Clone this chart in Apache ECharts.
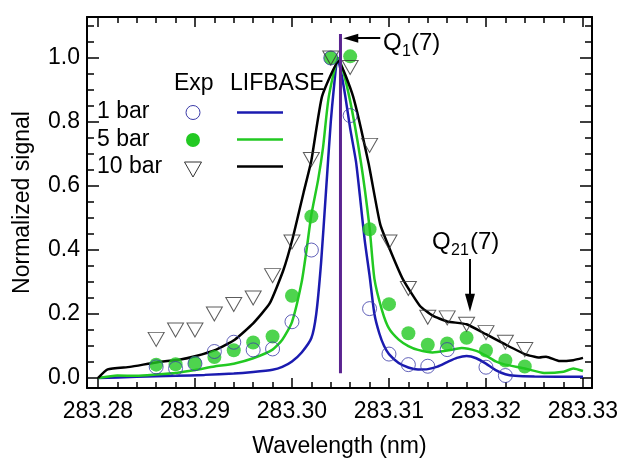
<!DOCTYPE html>
<html>
<head>
<meta charset="utf-8">
<script src="https://cdn.jsdelivr.net/npm/echarts@6/dist/echarts.min.js"></script>
<style>
  html, body { margin: 0; padding: 0; background: #fff; }
  #chart { width: 624px; height: 463px; }
</style>
</head>
<body>
<div id="chart"></div>
<script>
// experiment points (nm)
const expWl = [283.286, 283.288, 283.290, 283.292, 283.294, 283.296, 283.298, 283.300, 283.302, 283.304,
  283.306, 283.308, 283.310, 283.312, 283.314, 283.316, 283.318, 283.320, 283.322, 283.324]
const exp1bar = [0.035, 0.030, 0.045, 0.083, 0.112, 0.088, 0.091, 0.176, 0.400, 1.000,
  0.820, 0.217, 0.075, 0.042, 0.037, 0.089, null, 0.034, 0.008, null]
const exp5bar = [0.042, 0.043, 0.047, 0.066, 0.087, 0.111, 0.130, 0.257, 0.505, 1.000,
  1.005, 0.465, 0.231, 0.140, 0.104, 0.108, 0.126, 0.086, 0.055, 0.036]
const exp10bar = [0.121, 0.150, 0.150, 0.200, 0.230, 0.250, 0.320, 0.425, 0.683, 1.000,
  0.970, 0.727, 0.425, 0.280, 0.190, 0.188, 0.168, 0.142, 0.112, 0.089]

// LIFBASE simulations
const sim1Wl = [283.280, 283.284, 283.288, 283.291, 283.294, 283.296, 283.298, 283.299, 283.300, 283.301,
  283.302, 283.3025, 283.303, 283.3035, 283.304, 283.3043, 283.3047, 283.3051, 283.3055, 283.306,
  283.3066, 283.307, 283.3075, 283.308, 283.3085, 283.309, 283.3095, 283.310, 283.311, 283.312,
  283.313, 283.314, 283.315, 283.316, 283.317, 283.318, 283.319, 283.320, 283.321, 283.322,
  283.323, 283.325, 283.330]
const sim1 = [0.000, 0.004, 0.007, 0.010, 0.014, 0.019, 0.026, 0.035, 0.052, 0.080,
  0.125, 0.200, 0.360, 0.580, 0.800, 0.900, 1.000, 0.950, 0.880, 0.780,
  0.676, 0.570, 0.430, 0.320, 0.200, 0.140, 0.100, 0.075, 0.047, 0.033,
  0.027, 0.028, 0.036, 0.050, 0.063, 0.069, 0.062, 0.045, 0.025, 0.012,
  0.007, 0.005, 0.004]

const sim5Wl = [283.280, 283.282, 283.284, 283.286, 283.288, 283.290, 283.292, 283.294, 283.296, 283.298,
  283.299, 283.300, 283.301, 283.3015, 283.302, 283.3027, 283.3032, 283.3038, 283.3048, 283.3059,
  283.3071, 283.308, 283.3085, 283.3093, 283.310, 283.311, 283.312, 283.313, 283.3145, 283.316,
  283.3175, 283.319, 283.320, 283.321, 283.322, 283.324, 283.326, 283.328, 283.329, 283.330]
const sim5 = [0.000, 0.008, 0.007, 0.011, 0.016, 0.025, 0.036, 0.045, 0.062, 0.089,
  0.120, 0.175, 0.300, 0.400, 0.510, 0.620, 0.720, 0.880, 1.000, 0.880,
  0.676, 0.470, 0.310, 0.210, 0.155, 0.120, 0.100, 0.088, 0.080, 0.086,
  0.094, 0.085, 0.070, 0.052, 0.042, 0.030, 0.016, 0.020, 0.030, 0.022]

const sim10Wl = [283.280, 283.281, 283.2833, 283.286, 283.2885, 283.290, 283.2922, 283.2941, 283.296, 283.2977,
  283.2991, 283.3001, 283.3012, 283.302, 283.3031, 283.3048, 283.3063, 283.3079, 283.3091, 283.3103,
  283.3115, 283.3132, 283.3145, 283.316, 283.318, 283.320, 283.322, 283.324, 283.3255, 283.3262,
  283.3276, 283.329, 283.330]
const sim10 = [0.000, 0.027, 0.035, 0.049, 0.058, 0.068, 0.089, 0.120, 0.171, 0.233,
  0.336, 0.440, 0.580, 0.680, 0.880, 0.990, 0.880, 0.670, 0.480, 0.387,
  0.305, 0.225, 0.195, 0.177, 0.168, 0.137, 0.105, 0.075, 0.064, 0.067,
  0.053, 0.056, 0.063]

// Q1(7) line and the two arrows
const q1Wl = 283.305
const q1Span = [0.015, 1.075]
const q1Arrow = [[283.3091, 1.062], [283.30606, 1.062]]
const q21Arrow = [[283.31835, 0.372], [283.31835, 0.235]]

// tick values
const xMajor = [283.28, 283.29, 283.30, 283.31, 283.32, 283.33]
const xMinor = [283.282, 283.284, 283.286, 283.288, 283.292, 283.294, 283.296, 283.298,
  283.302, 283.304, 283.306, 283.308, 283.312, 283.314, 283.316, 283.318,
  283.322, 283.324, 283.326, 283.328]
const yMajor = [0, 0.2, 0.4, 0.6, 0.8, 1.0]
const yMinor = [0.05, 0.1, 0.15, 0.25, 0.3, 0.35, 0.45, 0.5, 0.55, 0.65, 0.7, 0.75,
  0.85, 0.9, 0.95, 1.05, 1.1]

const FONT = "'Liberation Sans', Arial, sans-serif"
const BLUE = '#1b1bb0'
const GREEN = '#22c922'
const PURPLE = '#5a2390'

const pair = (xs, ys) => xs.map((x, i) => [x, ys[i]]).filter(p => p[1] !== null)

function xAxisOf (position, ticks, len, main) {
  return {
    type: 'value',
    position,
    min: 283.27887,
    max: 283.33093,
    axisLine: { show: main, onZero: false, lineStyle: { color: '#000', width: 2 } },
    axisTick: { show: true, inside: true, length: len, customValues: ticks, lineStyle: { color: '#000', width: 1.5 } },
    axisLabel: main && position === 'bottom'
      ? { show: true, customValues: ticks, margin: 12, fontSize: 23, color: '#000', fontFamily: FONT, formatter: v => v.toFixed(2) }
      : { show: false },
    splitLine: { show: false }
  }
}

function yAxisOf (position, ticks, len, main) {
  return {
    type: 'value',
    position,
    min: -0.031,
    max: 1.128,
    axisLine: { show: main, onZero: false, lineStyle: { color: '#000', width: 2 } },
    axisTick: { show: true, inside: true, length: len, customValues: ticks, lineStyle: { color: '#000', width: 1.5 } },
    axisLabel: main && position === 'left'
      ? { show: true, customValues: ticks, margin: 7, fontSize: 23, color: '#000', fontFamily: FONT, formatter: v => v.toFixed(1) }
      : { show: false },
    splitLine: { show: false }
  }
}

const xAxes = [
  xAxisOf('bottom', xMajor, 10, true),
  xAxisOf('bottom', xMinor, 6, false),
  xAxisOf('top', xMajor, 10, true),
  xAxisOf('top', xMinor, 6, false)
]
Object.assign(xAxes[0], {
  name: 'Wavelength (nm)',
  nameLocation: 'middle',
  nameGap: 47,
  nameTextStyle: { fontSize: 23, color: '#000', fontFamily: FONT }
})

const yAxes = [
  yAxisOf('left', yMajor, 12, true),
  yAxisOf('left', yMinor, 7, false),
  yAxisOf('right', yMajor, 12, true),
  yAxisOf('right', yMinor, 7, false)
]
Object.assign(yAxes[0], {
  name: 'Normalized signal',
  nameLocation: 'middle',
  nameRotate: 90,
  nameGap: 53,
  nameTextStyle: { fontSize: 23, color: '#000', fontFamily: FONT }
})

const txt = (text, x, y, size, align) => ({
  type: 'text', x, y, z: 100,
  style: { text, fontSize: size, fontFamily: FONT, fill: '#000', align: align || 'left', verticalAlign: 'middle' }
})

const graphic = [
  // legend
  txt('Exp', 174, 84, 23),
  txt('LIFBASE', 230, 84, 23),
  txt('1 bar', 97, 112, 23),
  txt('5 bar', 97, 140, 23),
  txt('10 bar', 97, 167, 23),
  { type: 'circle', z: 100, shape: { cx: 193, cy: 112.5, r: 7 }, style: { fill: 'none', stroke: '#3b3ba8', lineWidth: 1 } },
  { type: 'circle', z: 100, shape: { cx: 193, cy: 140, r: 7 }, style: { fill: GREEN } },
  { type: 'polygon', z: 100, shape: { points: [[184.5, 162], [201.5, 162], [193, 177]] }, style: { fill: 'none', stroke: '#333', lineWidth: 1 } },
  { type: 'line', z: 100, shape: { x1: 237, y1: 112.5, x2: 283, y2: 112.5 }, style: { stroke: BLUE, lineWidth: 2.5 } },
  { type: 'line', z: 100, shape: { x1: 237, y1: 139.5, x2: 283, y2: 139.5 }, style: { stroke: GREEN, lineWidth: 2.5 } },
  { type: 'line', z: 100, shape: { x1: 237, y1: 166.5, x2: 283, y2: 166.5 }, style: { stroke: '#000', lineWidth: 2.5 } },
  // peak labels
  txt('Q', 383, 43, 24),
  txt('1', 402, 52, 16),
  txt('(7)', 411, 43, 24),
  txt('Q', 432, 242, 24),
  txt('21', 451, 251, 16),
  txt('(7)', 470, 242, 24)
]

const chart = echarts.init(document.getElementById('chart'))
chart.setOption({
  animation: false,
  backgroundColor: '#fff',
  grid: { left: 87, right: 32, top: 17, bottom: 71, containLabel: false },
  xAxis: xAxes,
  yAxis: yAxes,
  graphic,
  series: [
    {
      type: 'line', data: pair(sim1Wl, sim1), symbol: 'none', smooth: 0.2,
      lineStyle: { color: BLUE, width: 2.5 }, z: 2
    },
    {
      type: 'line', data: pair(sim5Wl, sim5), symbol: 'none', smooth: 0.2,
      lineStyle: { color: GREEN, width: 2.5 }, z: 2
    },
    {
      type: 'line', data: pair(sim10Wl, sim10), symbol: 'none', smooth: 0.15,
      lineStyle: { color: '#000', width: 2.5 }, z: 2
    },
    {
      type: 'scatter', data: pair(expWl, exp5bar), symbol: 'circle', symbolSize: 14,
      itemStyle: { color: GREEN }, z: 3
    },
    {
      type: 'scatter', data: pair(expWl, exp1bar), symbol: 'circle', symbolSize: 14,
      itemStyle: { color: 'rgba(0,0,0,0)', borderColor: '#3b3ba8', borderWidth: 1 }, z: 4
    },
    {
      type: 'scatter', data: pair(expWl, exp10bar), symbol: 'triangle', symbolRotate: 180, symbolSize: [16, 14],
      itemStyle: { color: 'rgba(0,0,0,0)', borderColor: '#333', borderWidth: 1 }, z: 4
    },
    {
      type: 'line', data: [[q1Wl, q1Span[0]], [q1Wl, q1Span[1]]], symbol: 'none',
      lineStyle: { color: PURPLE, width: 3 }, z: 5,
      markLine: {
        silent: true,
        animation: false,
        label: { show: false },
        lineStyle: { color: '#000', width: 2, type: 'solid' },
        symbol: ['none', 'triangle'],
        data: [
          [{ coord: q1Arrow[0], symbol: 'none' }, { coord: q1Arrow[1], symbol: 'triangle', symbolSize: [9, 15] }],
          [{ coord: q21Arrow[0], symbol: 'none' }, { coord: q21Arrow[1], symbol: 'triangle', symbolSize: [10, 18] }]
        ]
      }
    }
  ]
})
</script>
</body>
</html>
